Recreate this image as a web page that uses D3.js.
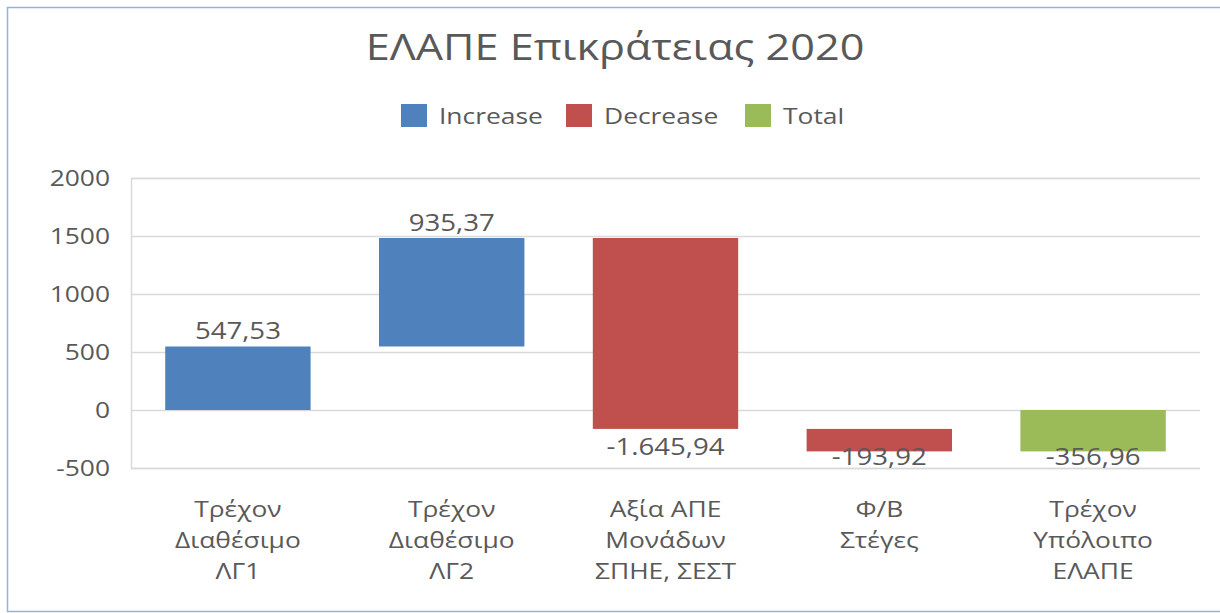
<!DOCTYPE html>
<html>
<head>
<meta charset="utf-8">
<script src="https://cdn.jsdelivr.net/npm/d3@7"></script>
<style>
  body { margin: 0; background: #fff; }
  svg text { font-family: "Open Sans", "Noto Sans", sans-serif; fill: #595959; }
</style>
</head>
<body>
<svg id="chart"></svg>
<script>
// data
const categories = [
  ["Τρέχον", "Διαθέσιμο", "ΛΓ1"],
  ["Τρέχον", "Διαθέσιμο", "ΛΓ2"],
  ["Αξία ΑΠΕ", "Μονάδων", "ΣΠΗΕ, ΣΕΣΤ"],
  ["Φ/Β", "Στέγες"],
  ["Τρέχον", "Υπόλοιπο", "ΕΛΑΠΕ"]
];
const values = [547.53, 935.37, -1645.94, -193.92, -356.96];
const kinds = ["Increase", "Increase", "Decrease", "Decrease", "Total"];
const legendItems = ["Increase", "Decrease", "Total"];
const yTicks = [-500, 0, 500, 1000, 1500, 2000];
const title = "ΕΛΑΠΕ Επικράτειας 2020";

const colors = {Increase: "#4F81BD", Decrease: "#C0504D", Total: "#9BBB59"};

const W = 1220, H = 613;
const margin = {top: 178, right: 20, bottom: 145, left: 131};
const width = W - margin.left - margin.right;
const height = H - margin.top - margin.bottom;
const SX = 1.2; // text in the reference is a bit wide

const svg = d3.select("#chart").attr("width", W).attr("height", H);

// outer chart border
svg.append("rect")
  .attr("x", 7.5).attr("y", 7.5)
  .attr("width", W + 20).attr("height", H - 9)
  .attr("fill", "none").attr("stroke", "#95B3D7").attr("stroke-width", 1.5);

// greek number format: 1.645,94, plain hyphen for minus
const fmt0 = d3.formatLocale({decimal: ",", thousands: ".", grouping: [3], currency: ["", ""], minus: "-"}).format(",.2f");
const fmt = v => fmt0(v);

// place a text at x,y, widened horizontally
function at(x, y) { return `translate(${x},${y}) scale(${SX},1)`; }

// waterfall steps
let run = 0;
const steps = values.map((v, i) => {
  let start, end;
  if (kinds[i] === "Total") { start = 0; end = v; run = v; }
  else { start = run; end = run + v; run = end; }
  return {i, value: v, kind: kinds[i], start, end};
});

const x = d3.scaleBand().domain(d3.range(categories.length)).range([0, width]).paddingInner(0.32).paddingOuter(0.16);
const y = d3.scaleLinear().domain([d3.min(yTicks), d3.max(yTicks)]).range([height, 0]);

const g = svg.append("g").attr("transform", `translate(${margin.left},${margin.top})`);

// grid
g.append("g")
  .call(d3.axisLeft(y).tickValues(yTicks).tickSize(-width).tickFormat(""))
  .call(a => a.select(".domain").attr("stroke", "#d9d9d9").attr("stroke-width", 1.5))
  .call(a => a.selectAll(".tick line").attr("stroke", "#d9d9d9").attr("stroke-width", 1.5));

// y tick labels
g.append("g").selectAll("text")
  .data(yTicks).join("text")
  .attr("transform", d => at(-21, y(d)))
  .attr("dy", "0.36em")
  .attr("text-anchor", "end")
  .style("font-size", "22px")
  .text(d => d);

// bars
g.selectAll("rect.bar")
  .data(steps).join("rect")
  .attr("class", "bar")
  .attr("x", d => x(d.i))
  .attr("width", x.bandwidth())
  .attr("y", d => y(Math.max(d.start, d.end)))
  .attr("height", d => Math.abs(y(d.start) - y(d.end)))
  .attr("fill", d => colors[d.kind]);

// data labels
g.selectAll("text.val")
  .data(steps).join("text")
  .attr("class", "val")
  .attr("transform", d => at(x(d.i) + x.bandwidth() / 2,
    d.value >= 0 ? y(d.end) - 7 : Math.min(y(d.end) + 26, height - 3)))
  .attr("text-anchor", "middle")
  .style("font-size", "23px")
  .text(d => fmt(d.value));

// category labels
const cat = g.append("g").attr("transform", `translate(0,${height})`);
cat.selectAll("text")
  .data(categories).join("text")
  .attr("text-anchor", "middle")
  .attr("transform", (d, i) => at(x(i) + x.bandwidth() / 2, 0))
  .style("font-size", "22px")
  .selectAll("tspan")
  .data(d => d).join("tspan")
  .attr("x", 0)
  .attr("y", (d, j) => 49 + j * 31)
  .text(d => d);

// title
svg.append("text")
  .attr("transform", at(615, 60))
  .attr("text-anchor", "middle")
  .style("font-size", "36px")
  .text(title);

// legend
const legend = svg.append("g").attr("transform", "translate(401,104)");
const lx = [0, 165, 344];
legendItems.forEach((k, i) => {
  const it = legend.append("g").attr("transform", `translate(${lx[i]},0)`);
  it.append("rect").attr("width", 26).attr("height", 23).attr("fill", colors[k]);
  it.append("text").attr("transform", at(38, 20)).style("font-size", "22px").text(k);
});
</script>
</body>
</html>
